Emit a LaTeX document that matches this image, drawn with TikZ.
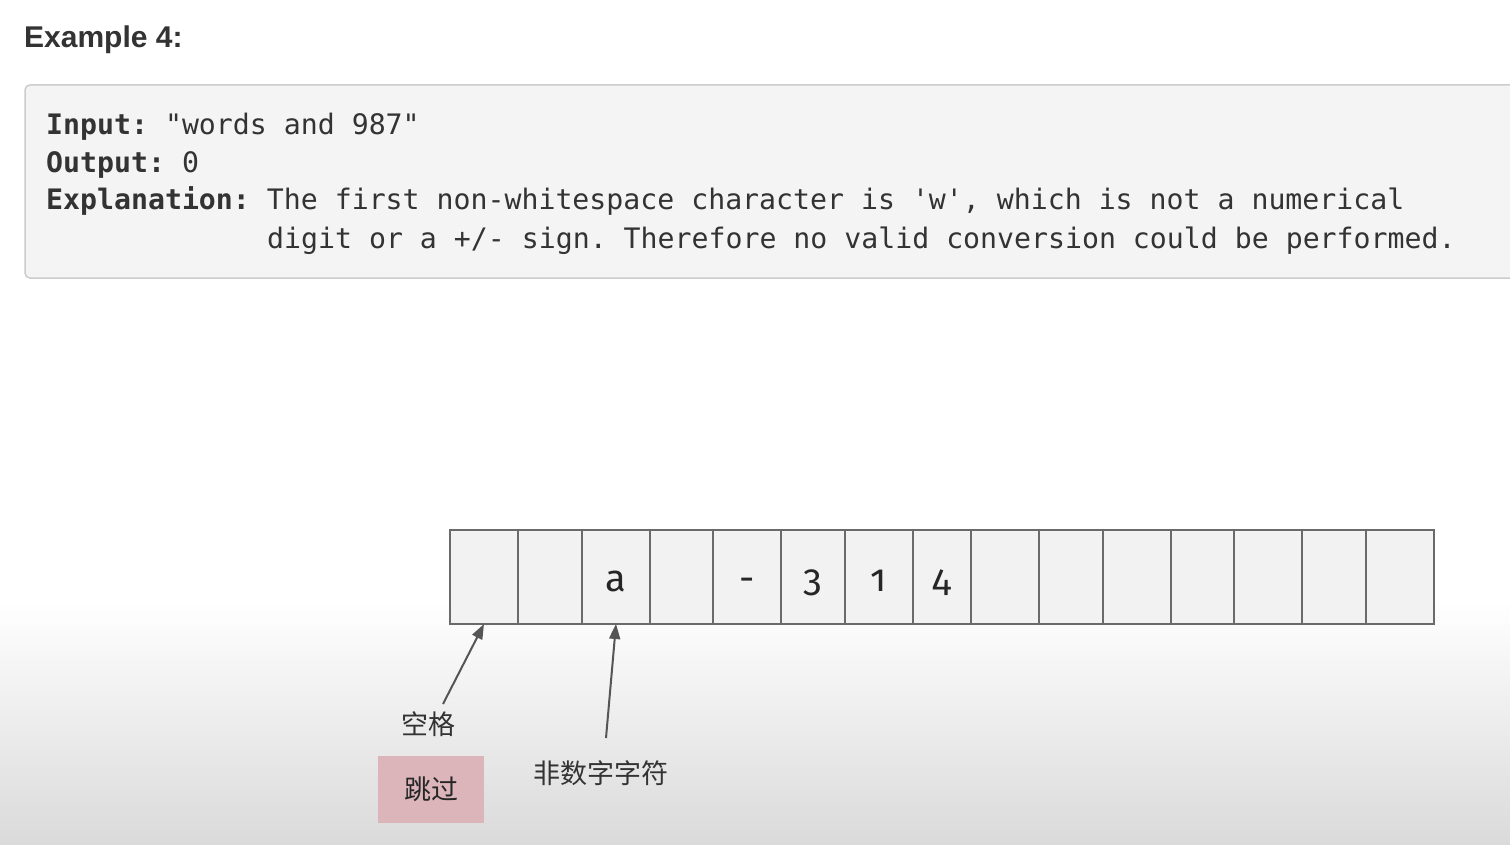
\documentclass[tikz,border=0pt]{standalone}
\usepackage{fontspec}
\setmainfont{Liberation Sans}
\setmonofont{DejaVu Sans Mono}
\newfontfamily\cjk{Noto Sans CJK SC}
\newfontfamily\cellfont[Numbers=OldStyle]{Fira Sans}
\usetikzlibrary{arrows.meta}
\definecolor{boxfill}{HTML}{F4F4F4}
\definecolor{boxdraw}{HTML}{CCCCCC}
\definecolor{txt}{HTML}{333333}
\definecolor{cellfill}{HTML}{F2F2F2}
\definecolor{celldraw}{HTML}{6A6A6A}
\definecolor{arr}{HTML}{555555}
\definecolor{pinkbox}{HTML}{DBB5BA}
\definecolor{bggray}{HTML}{DADADA}
\tikzset{
  cell/.style={draw=celldraw, fill=cellfill, line width=1.5pt, inner sep=0pt, outer sep=0pt,
    minimum height=94pt, text height=30pt, text depth=2pt, font=\cellfont\fontsize{38}{44}\selectfont, text=black!85},
  mono/.style={anchor=base west, inner sep=0pt, font=\ttfamily\fontsize{28.2}{34}\selectfont, text=txt},
  pointer/.style={draw=arr, line width=2pt, -{Triangle[length=15pt, width=11pt]}},
  cjklabel/.style={inner sep=0pt, font=\cjk\fontsize{27}{32}\selectfont, text=black!80}
}
\begin{document}
\begin{tikzpicture}[x=1pt, y=-1pt]
\useasboundingbox (0,0) rectangle (1510,845);
\clip (0,0) rectangle (1510,845);
\fill[white] (0,0) rectangle (1510,845);
\shade[top color=white, bottom color=bggray] (0,600) rectangle (1510,845);
% title
\node[anchor=base west, inner sep=0pt, font=\bfseries\fontsize{30}{36}\selectfont, text=txt] (title) at (24,48) {Example 4:};
% code box
\draw[fill=boxfill, draw=boxdraw, line width=1.5pt, rounded corners=5pt] (25,85) rectangle (1530,278);
\node[mono] (l1) at (46,135) {\textbf{Input:} "words and 987"};
\node[mono] (l2) at (46,173) {\textbf{Output:} 0};
\node[mono] (l3) at (46,210) {\textbf{Explanation:} The first non-whitespace character is 'w', which is not a numerical};
\node[mono] (l4) at (267,248) {digit or a +/- sign. Therefore no valid conversion could be performed.};
% cells
\foreach \a/\b/\t [count=\i] in {450/518/{},518/582/{},582/650/a,650/713/{},713/781/-,781/845/3,845/913/1,913/971/4,971/1039/{},1039/1103/{},1103/1171/{},1171/1234/{},1234/1302/{},1302/1366/{},1366/1434/{}}
  \node[cell, minimum width={(\b-\a)*1pt}] (c\i) at ({(\a+\b)/2},577) {\t};
% labels
\node[cjklabel] (space) at (428,724) {空格};
\node[cjklabel] (nondigit) at (601,773) {非数字字符};
\node[fill=pinkbox, minimum width=106pt, minimum height=67pt, inner sep=0pt, font=\cjk\fontsize{27}{32}\selectfont, text=black!85] (skip) at (431,789.5) {跳过};
\coordinate (t1) at (443,704);
\coordinate (t2) at (606,738);
\draw[pointer] (t1) -- (c1.south);
\draw[pointer] (t2) -- (c3.south);
\end{tikzpicture}
\end{document}
